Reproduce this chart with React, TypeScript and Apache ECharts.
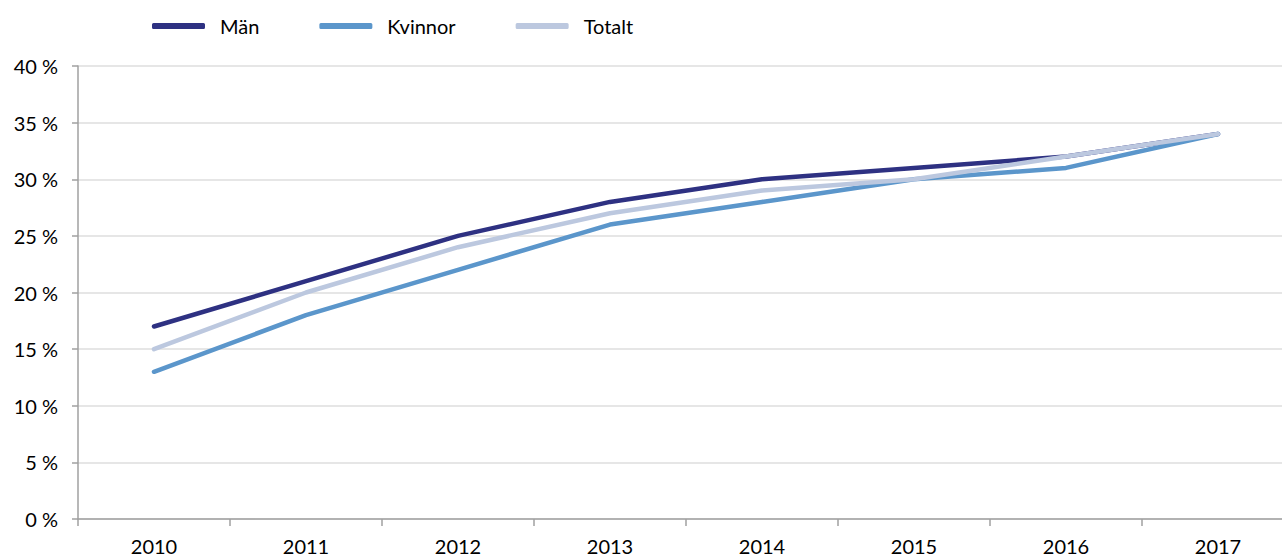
import React, { useEffect, useRef } from "react";
import * as echarts from "echarts";

const years = ["2010", "2011", "2012", "2013", "2014", "2015", "2016", "2017"];
const man = [17, 21, 25, 28, 30, 31, 32, 34];
const kvinnor = [13, 18, 22, 26, 28, 30, 31, 34];
const totalt = [15, 20, 24, 27, 29, 30, 32, 34];

const FONT = "Lato";

export default function App() {
  const ref = useRef<HTMLDivElement>(null);
  useEffect(() => {
    if (!ref.current) return;
    const chart = echarts.init(ref.current, null, { renderer: "svg" });
    const mk = (name: string, data: number[], color: string) => ({
      name,
      type: "line",
      data,
      symbol: "none",
      lineStyle: { color, width: 4.5, cap: "round", join: "round" },
      itemStyle: { color },
    });
    chart.setOption({
      animation: false,
      textStyle: { fontFamily: FONT },
      legend: {
        left: 147,
        top: 11,
        itemWidth: 53,
        itemHeight: 6,
        itemGap: 60,
        icon: "roundRect",
        textStyle: { fontFamily: FONT, fontSize: 20, color: "#000", padding: [0, 0, 0, 10] },
        data: ["Män", "Kvinnor", "Totalt"],
      },
      grid: { left: 78, top: 66, right: 0, bottom: 38 },
      xAxis: {
        type: "category",
        data: years,
        boundaryGap: true,
        axisLine: { lineStyle: { color: "#a0a0a0", width: 1.5 } },
        axisTick: { show: true, length: 7, lineStyle: { color: "#a0a0a0", width: 1.5 } },
        axisLabel: { fontFamily: FONT, fontSize: 20, color: "#000", margin: 17 },
      },
      yAxis: {
        type: "value",
        min: 0,
        max: 40,
        interval: 5,
        axisLine: { show: true, lineStyle: { color: "#a0a0a0", width: 1.5 } },
        axisTick: { show: true, inside: false, length: 6, lineStyle: { color: "#a0a0a0", width: 1.5 } },
        splitLine: { lineStyle: { color: "#dedede", width: 1.5 } },
        axisLabel: { fontFamily: FONT, fontSize: 20, color: "#000", margin: 20, formatter: "{value} %" },
      },
      series: [
        mk("Män", man, "#2e3182"),
        mk("Kvinnor", kvinnor, "#5b96cb"),
        mk("Totalt", totalt, "#bcc8df"),
      ],
    });
    return () => chart.dispose();
  }, []);
  return (
    <div
      style={{ position: "absolute", left: 0, top: 0, width: 1282, height: 557, overflow: "hidden", background: "#fff" }}
    >
      <div ref={ref} style={{ width: 1294, height: 557 }} />
    </div>
  );
}
